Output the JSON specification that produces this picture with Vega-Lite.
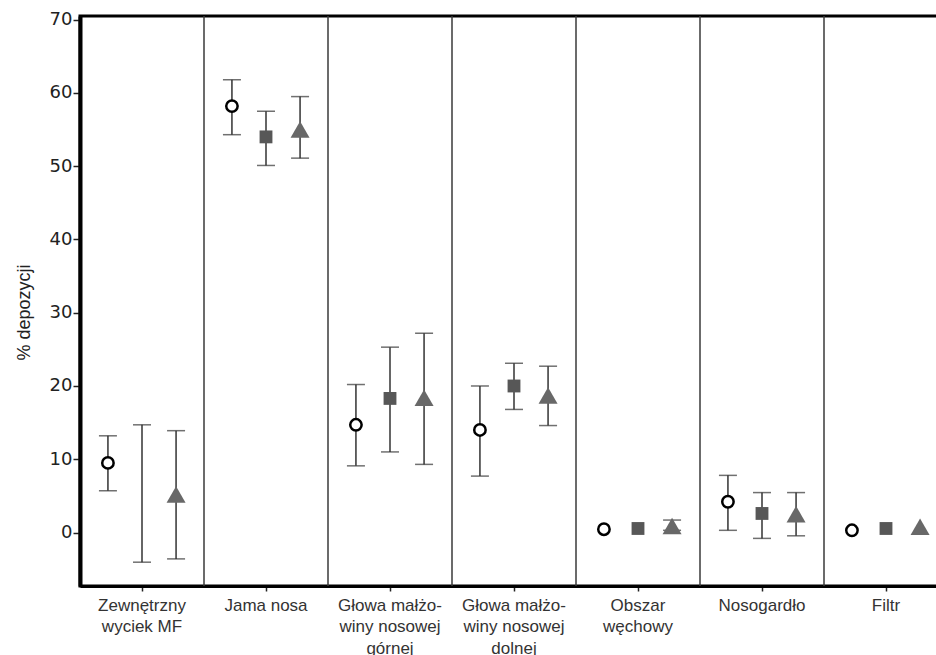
{
  "$schema": "https://vega.github.io/schema/vega-lite/v6.json",
  "width": 868,
  "height": 570,
  "autosize": {"type": "none"},
  "padding": {"left": 80, "top": 16, "right": 0, "bottom": 69},
  "background": "white",
  "view": {"stroke": "black", "strokeWidth": 3},
  "datasets": {
    "pts": [
      {"cat": "Zewnętrzny|wyciek MF", "s": "A", "m": 9.5, "lo": 5.7, "hi": 13.2},
      {"cat": "Zewnętrzny|wyciek MF", "s": "B", "m": null, "lo": -4.05, "hi": 14.7},
      {"cat": "Zewnętrzny|wyciek MF", "s": "C", "m": 5.2, "lo": -3.6, "hi": 13.9},
      {"cat": "Jama nosa", "s": "A", "m": 58.2, "lo": 54.3, "hi": 61.8},
      {"cat": "Jama nosa", "s": "B", "m": 54.0, "lo": 50.1, "hi": 57.5},
      {"cat": "Jama nosa", "s": "C", "m": 55.0, "lo": 51.1, "hi": 59.5},
      {"cat": "Głowa małżo-|winy nosowej|górnej", "s": "A", "m": 14.7, "lo": 9.1, "hi": 20.2},
      {"cat": "Głowa małżo-|winy nosowej|górnej", "s": "B", "m": 18.3, "lo": 11.0, "hi": 25.3},
      {"cat": "Głowa małżo-|winy nosowej|górnej", "s": "C", "m": 18.4, "lo": 9.3, "hi": 27.2},
      {"cat": "Głowa małżo-|winy nosowej|dolnej", "s": "A", "m": 14.0, "lo": 7.7, "hi": 20.0},
      {"cat": "Głowa małżo-|winy nosowej|dolnej", "s": "B", "m": 20.0, "lo": 16.8, "hi": 23.1},
      {"cat": "Głowa małżo-|winy nosowej|dolnej", "s": "C", "m": 18.7, "lo": 14.6, "hi": 22.7},
      {"cat": "Obszar|węchowy", "s": "A", "m": 0.45, "lo": null, "hi": null},
      {"cat": "Obszar|węchowy", "s": "B", "m": 0.55, "lo": null, "hi": null},
      {"cat": "Obszar|węchowy", "s": "C", "m": 0.9, "lo": 0.3, "hi": 1.7},
      {"cat": "Nosogardło", "s": "A", "m": 4.2, "lo": 0.3, "hi": 7.8},
      {"cat": "Nosogardło", "s": "B", "m": 2.6, "lo": -0.8, "hi": 5.45},
      {"cat": "Nosogardło", "s": "C", "m": 2.5, "lo": -0.45, "hi": 5.45},
      {"cat": "Filtr", "s": "A", "m": 0.3, "lo": null, "hi": null},
      {"cat": "Filtr", "s": "B", "m": 0.55, "lo": null, "hi": null},
      {"cat": "Filtr", "s": "C", "m": 0.8, "lo": null, "hi": null}
    ],
    "seps": [
      {"cat": "Jama nosa"},
      {"cat": "Głowa małżo-|winy nosowej|górnej"},
      {"cat": "Głowa małżo-|winy nosowej|dolnej"},
      {"cat": "Obszar|węchowy"},
      {"cat": "Nosogardło"},
      {"cat": "Filtr"}
    ]
  },
  "encoding": {
    "x": {
      "field": "cat",
      "type": "nominal",
      "sort": null,
      "scale": {
        "domain": ["Zewnętrzny|wyciek MF", "Jama nosa", "Głowa małżo-|winy nosowej|górnej", "Głowa małżo-|winy nosowej|dolnej", "Obszar|węchowy", "Nosogardło", "Filtr"],
        "paddingInner": 0,
        "paddingOuter": 0
      },
      "axis": {
        "title": null,
        "labelAngle": 0,
        "labelExpr": "split(datum.label, '|')",
        "labelFont": "Liberation Sans",
        "labelFontSize": 17,
        "labelColor": "#333333",
        "labelPadding": 6,
        "labelLineHeight": 21.5,
        "labelBaseline": "top",
        "labelOverlap": false,
        "domainColor": "black",
        "domainWidth": 3,
        "tickColor": "#222222",
        "tickWidth": 1.5,
        "tickSize": 5
      }
    }
  },
  "layer": [
    {
      "data": {"name": "seps"},
      "mark": {"type": "rule", "color": "#3a3a3a", "strokeWidth": 1.5},
      "encoding": {
        "x": {"field": "cat", "type": "nominal", "bandPosition": 0}
      }
    },
    {
      "data": {"name": "pts"},
      "layer": [
        {
          "mark": {"type": "rule", "color": "#333333", "strokeWidth": 1.5},
          "encoding": {
            "xOffset": {"field": "s", "type": "nominal", "scale": {"domain": ["A", "B", "C"], "paddingOuter": 0.32, "paddingInner": 0}},
            "y": {
              "field": "lo",
              "type": "quantitative",
              "scale": {"domain": [-7.3, 70.5], "nice": false, "zero": false},
              "axis": {
                "title": "% depozycji",
                "values": [0, 10, 20, 30, 40, 50, 60, 70],
                "grid": false,
                "domainColor": "black",
                "domainWidth": 4,
                "tickColor": "#222222",
                "tickWidth": 1.5,
                "tickSize": 7,
                "labelFont": "DejaVu Sans",
                "labelFontSize": 18,
                "labelColor": "#222222",
                "labelPadding": 1,
                "titleFont": "Liberation Sans",
                "titleFontSize": 18,
                "titleFontWeight": "normal",
                "titleColor": "#222222",
                "titleX": -47,
                "titleY": 296
              }
            },
            "y2": {"field": "hi"}
          }
        },
        {
          "mark": {"type": "tick", "color": "#333333", "thickness": 1.5, "size": 18, "orient": "horizontal"},
          "encoding": {
            "xOffset": {"field": "s", "type": "nominal"},
            "y": {"field": "lo", "type": "quantitative"}
          }
        },
        {
          "mark": {"type": "tick", "color": "#333333", "thickness": 1.5, "size": 18, "orient": "horizontal"},
          "encoding": {
            "xOffset": {"field": "s", "type": "nominal"},
            "y": {"field": "hi", "type": "quantitative"}
          }
        },
        {
          "transform": [{"filter": "datum.s === 'A'"}],
          "mark": {"type": "point", "shape": "circle", "filled": true, "fill": "white", "stroke": "black", "strokeWidth": 2.5, "size": 130, "opacity": 1},
          "encoding": {
            "xOffset": {"field": "s", "type": "nominal"},
            "y": {"field": "m", "type": "quantitative"}
          }
        },
        {
          "transform": [{"filter": "datum.s === 'B'"}],
          "mark": {"type": "point", "shape": "square", "filled": true, "fill": "#575757", "strokeWidth": 0, "size": 165, "opacity": 1},
          "encoding": {
            "xOffset": {"field": "s", "type": "nominal"},
            "y": {"field": "m", "type": "quantitative"}
          }
        },
        {
          "transform": [{"filter": "datum.s === 'C'"}],
          "mark": {"type": "point", "shape": "triangle-up", "filled": true, "fill": "#686868", "strokeWidth": 0, "size": 361, "opacity": 1},
          "encoding": {
            "xOffset": {"field": "s", "type": "nominal"},
            "y": {"field": "m", "type": "quantitative"}
          }
        }
      ]
    }
  ]
}
